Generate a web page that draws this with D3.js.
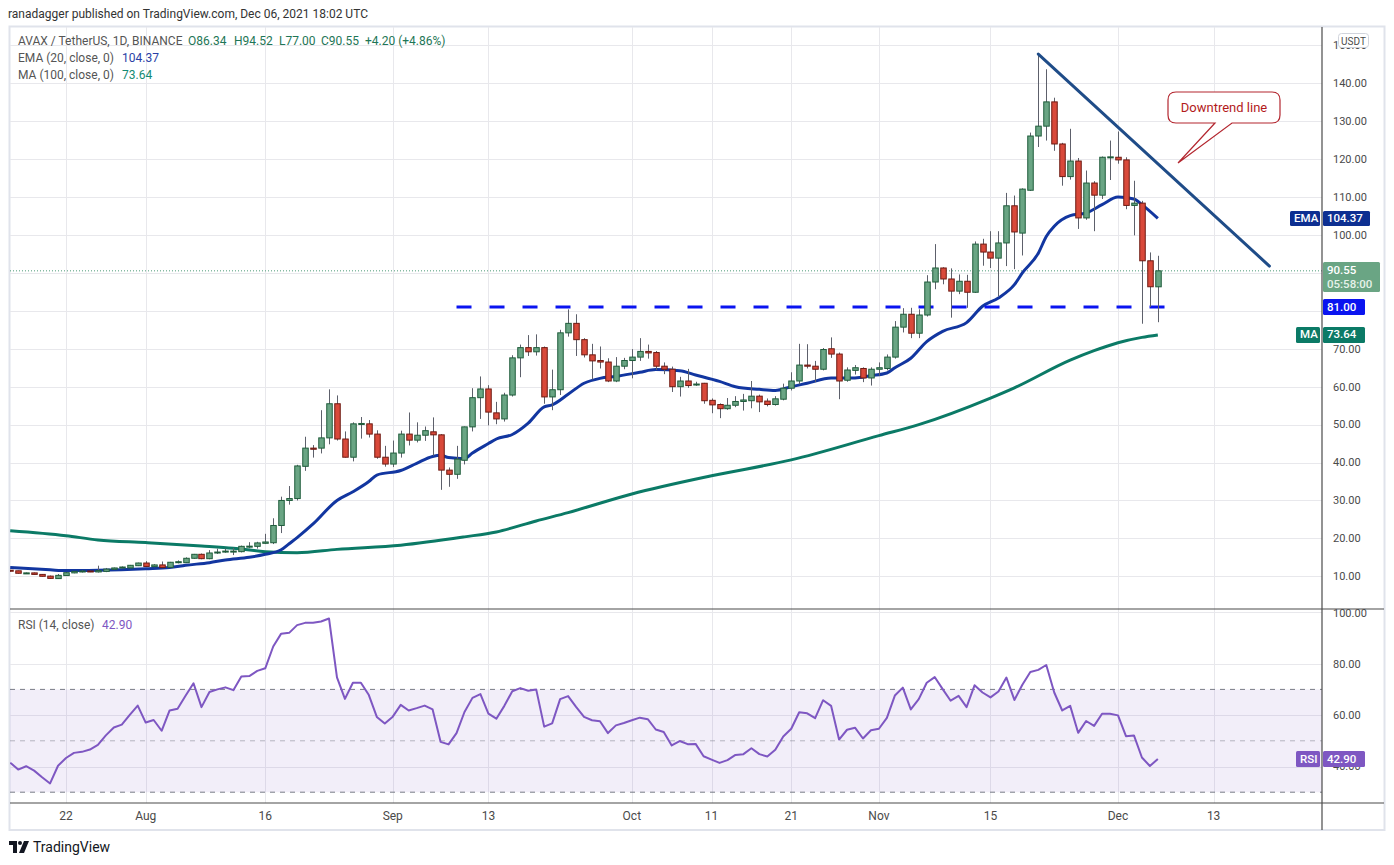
<!DOCTYPE html>
<html>
<head>
<meta charset="utf-8">
<script src="https://cdnjs.cloudflare.com/ajax/libs/d3/7.8.5/d3.min.js"></script>
<style>
  body { margin: 0; background: #fff; }
  svg text { font-family: Roboto, "Noto Sans", "DejaVu Sans", sans-serif; }
</style>
</head>
<body>
<svg id="chart" width="1394" height="865"></svg>
<script>
// daily candles from this date on, one row per day: [open, high, low, close]
const startDay = "2021-07-15";
const candles = [
  [11.6,11.7,11.2,11.45],[11.45,11.5,10.7,10.8],[10.8,11.0,10.7,10.9],[10.9,11.0,10.4,10.5],[10.5,10.6,9.9,10.0],
  [10.05,10.2,9.3,9.45],[9.4,10.6,9.3,10.25],[10.2,11.1,10.1,10.95],[10.9,11.4,10.8,11.3],[11.15,11.6,11.0,11.4],
  [11.4,11.5,11.1,11.3],[11.15,12.8,11.0,11.5],[11.3,12.2,11.1,11.9],[11.85,12.3,11.7,12.2],[12.2,12.6,12.1,12.45],
  [12.2,13.0,12.1,12.9],[12.8,13.6,12.7,13.5],[13.5,14.0,12.5,12.6],[12.55,13.2,12.4,13.0],[13.0,13.9,12.2,12.3],
  [12.35,13.8,12.2,13.7],[13.6,14.2,13.4,13.85],[13.6,15.0,13.5,14.75],[14.75,15.9,14.6,15.8],[15.8,16.0,14.5,14.65],
  [14.65,16.9,14.5,16.15],[16.15,17.3,15.9,16.4],[16.4,17.3,16.2,16.65],[16.5,17.5,15.6,16.65],[16.5,18.1,16.3,17.9],
  [17.75,19.0,17.4,17.95],[17.9,19.1,17.3,18.8],[18.7,21.2,18.5,19.05],[18.85,25.3,18.5,23.4],[23.4,31.0,21.4,30.0],
  [30.0,33.8,28.9,30.5],[30.5,39.4,30.0,39.1],[39.0,46.8,37.8,43.8],[43.8,44.6,41.3,43.5],[43.8,53.8,42.4,46.5],
  [46.5,59.3,44.8,55.5],[55.5,57.7,45.8,46.2],[46.2,48.2,41.3,41.4],[41.4,50.6,40.3,50.2],[50.2,52.0,46.3,50.3],
  [50.2,51.2,46.6,47.5],[47.5,48.5,41.0,41.4],[41.4,44.4,38.9,39.6],[39.6,45.8,38.8,42.5],[42.5,48.4,41.3,47.5],
  [47.5,53.2,44.5,45.9],[45.9,50.6,45.3,47.2],[47.2,49.5,45.7,48.4],[48.1,51.9,41.8,47.3],[47.3,47.5,32.8,38.0],
  [38.0,38.7,33.6,36.9],[36.9,44.4,35.7,40.9],[40.6,49.5,39.5,49.4],[49.4,59.6,48.2,57.1],[57.1,62.7,51.5,59.4],
  [59.4,60.4,49.8,53.3],[53.1,56.0,50.1,51.5],[51.5,58.4,50.8,57.8],[57.8,68.3,57.4,67.6],[67.6,71.1,62.5,70.3],
  [70.3,73.6,68.1,69.2],[69.2,73.8,68.2,70.3],[70.3,70.6,55.5,57.3],[57.3,64.5,53.8,59.2],[59.2,75.0,57.8,74.2],
  [74.2,80.4,73.2,76.7],[76.7,79.1,68.1,72.4],[72.4,72.8,67.7,68.4],[68.4,71.3,61.9,66.8],[66.9,70.6,64.8,66.5],
  [66.5,67.5,61.2,61.5],[61.5,67.8,61.2,65.4],[65.4,67.6,64.6,66.9],[66.9,69.9,62.2,67.8],[67.8,72.8,66.8,69.3],
  [69.3,71.1,67.4,68.9],[69.0,69.4,64.4,65.4],[65.4,66.4,63.3,64.6],[64.6,65.3,58.6,60.0],[60.0,62.6,57.4,61.5],
  [61.5,64.7,59.7,60.3],[60.6,61.3,60.2,60.7],[60.9,61.0,55.5,56.3],[56.4,56.9,53.0,55.2],[55.3,55.6,51.7,54.2],
  [54.2,57.0,53.9,55.1],[55.1,57.5,54.6,56.1],[56.1,58.1,53.7,56.5],[56.3,61.5,54.3,57.5],[57.5,57.9,53.3,56.0],
  [56.2,56.9,54.8,55.3],[55.3,57.5,55.0,56.8],[56.7,60.8,56.4,59.6],[59.6,63.8,59.0,61.5],[61.5,71.3,60.6,65.7],
  [65.7,71.2,64.8,65.4],[65.4,66.8,61.2,64.6],[64.6,70.2,64.3,69.8],[70.0,73.0,67.6,68.6],[68.6,69.0,56.7,61.5],
  [61.7,65.1,61.3,64.4],[64.3,65.7,63.2,65.0],[64.8,65.1,61.2,62.3],[62.3,65.1,60.3,64.6],[64.6,66.4,62.9,65.0],
  [64.8,68.5,64.3,67.8],[67.8,77.3,67.4,75.7],[75.7,80.7,74.3,79.1],[79.1,80.8,72.8,74.1],[74.1,80.4,72.8,78.9],
  [78.9,89.4,78.5,87.6],[87.6,97.6,85.7,91.3],[91.3,91.5,87.0,88.4],[88.4,91.2,78.2,85.2],[85.2,89.6,84.4,87.8],
  [87.8,89.5,80.8,84.9],[84.9,98.3,84.7,97.6],[97.6,99.0,91.9,95.5],[95.5,101.0,91.3,93.9],[93.9,101.0,83.8,97.9],
  [97.9,111.1,91.8,107.7],[107.7,110.4,91.0,100.8],[100.5,112.3,94.6,112.1],[111.8,127.0,111.6,126.1],[126.1,147.7,123.2,128.7],
  [128.7,143.7,124.9,135.1],[135.1,136.2,122.2,124.0],[124.0,124.3,113.0,115.4],[115.4,128.0,114.6,119.5],[119.5,120.3,101.6,104.5],
  [104.5,117.0,104.0,113.7],[113.7,114.2,101.0,110.5],[110.5,120.7,109.5,120.5],[120.4,124.9,114.5,120.6],[120.5,127.3,118.8,119.8],
  [119.8,120.5,106.8,107.8],[107.8,114.3,99.9,108.4],[108.4,109.0,76.6,93.2],[93.2,95.4,81.0,86.35],[86.34,94.52,77.0,90.55]
];

// EMA(20) and MA(100), by day number from startDay
const emaDay = [0,5,7,11,17,20,22,25,27,30,32,34,35,36,38,41,43,45,46,49,51,53,54,55,57,58,60,61,63,65,67,68,70,72,74,76,79,81,84,86,89,91,94,96,98,100,103,106,108,110,111,113,115,117,120,122,124,126,127,129,130,131,133,135,137,139,141,142,144];
const emaValue = [12.3,11.7,11.5,11.6,12.0,12.3,12.9,13.6,14.3,15.0,15.8,17.0,18.6,20.2,23.8,30.0,32.3,35.0,36.7,37.9,39.8,41.6,41.9,41.3,41.0,42.5,45.0,46.2,47.4,50.4,54.7,55.2,58.0,60.9,62.2,62.7,63.8,64.5,64.2,63.1,61.4,60.0,59.3,59.0,60.0,60.9,62.3,62.3,62.9,63.6,65.0,67.5,71.9,74.6,76.9,81.2,83.4,86.9,90.0,95.2,99.6,102.3,105.1,105.8,108.0,110.0,109.5,108.0,104.37];
const maDay = [0,7,11,17,24,28,32,36,41,49,57,61,66,70,78,88,98,109,114,123,126,133,136,139,142,144];
const maValue = [22.0,20.7,19.6,18.9,18.0,17.4,16.5,16.2,17.1,18.2,20.4,21.7,24.6,26.8,31.7,36.5,40.7,47.1,50.0,57.0,59.7,67.0,69.5,71.6,73.0,73.64];

// RSI(14), one value per candle
const rsiValue = [
  41.5,38.8,40.1,38.4,35.8,33.4,40.3,43.3,45.3,45.7,
  46.6,48.4,52.1,55.2,56.3,60.1,63.7,57.1,58.1,53.9,
  61.8,62.5,67.5,72.4,63.1,69.0,70.0,70.8,69.7,75.0,
  75.2,77.2,78.2,86.7,91.7,92.0,95.0,95.9,95.9,96.4,
  97.6,74.7,66.3,72.6,72.6,67.8,59.3,56.7,59.4,64.0,
  61.8,62.7,63.7,62.2,49.6,48.6,53.0,61.2,66.7,68.2,
  60.6,58.6,63.6,69.3,70.5,69.5,70.0,55.5,56.8,66.2,
  67.4,63.2,59.3,58.0,57.6,53.0,56.0,56.9,58.0,59.0,
  58.4,54.4,53.4,48.2,49.9,48.7,48.8,44.0,42.7,41.4,
  42.5,44.5,44.8,47.1,44.8,43.9,46.5,51.7,54.7,61.1,
  60.7,58.8,65.8,63.6,50.5,54.3,55.1,50.9,54.1,54.7,
  58.9,67.6,70.7,62.2,66.2,72.6,74.8,70.1,65.6,67.5,
  63.1,71.6,68.8,66.9,69.2,74.6,65.9,71.8,76.8,77.6,
  79.5,68.8,61.8,63.6,53.1,57.7,55.8,60.5,60.5,59.9,
  51.8,52.1,43.5,40.2,42.9
];

const priceTicks = [10,20,30,40,50,60,70,80,90,100,110,120,130,140,150];
const rsiTicks = [40,60,80,100];
const dateTicks = ["2021-07-22","2021-08-01","2021-08-16","2021-09-01","2021-09-13","2021-10-01","2021-10-11","2021-10-21","2021-11-01","2021-11-15","2021-12-01","2021-12-13"];
const dateTickLabels = ["22","Aug","16","Sep","13","Oct","11","21","Nov","15","Dec","13"];

const supportLevel = 81;
const supportFrom = "2021-09-09", supportTo = "2021-12-07";
const trendStart = ["2021-11-21", 147.7], trendEnd = ["2021-12-20", 91.8];
const lastPrice = 90.55, lastEma = 104.37, lastMa = 73.64, lastRsi = 42.90;

// ---- layout ----
const plotL = 10, plotR = 1322, plotT = 27, mainB = 609, rsiB = 803, frameB = 830;
const parse = d3.utcParse("%Y-%m-%d");
const day0 = parse(startDay);
const dayDate = n => d3.utcDay.offset(day0, n);

const x = d3.scaleUtc().domain([parse("2021-07-22"), parse("2021-12-01")]).range([66, 1118]);
const y = d3.scaleLinear().domain([10, 140]).range([576.3, 83.3]);
const yr = d3.scaleLinear().domain([30, 100]).range([792.2, 612.3]);

const svg = d3.select("#chart");

svg.append("text").attr("x", 8).attr("y", 18).attr("font-size", 12).attr("fill", "#333")
  .text("ranadagger published on TradingView.com, Dec 06, 2021 18:02 UTC");

const defs = svg.append("defs");
defs.append("clipPath").attr("id", "clipMain").append("rect")
  .attr("x", plotL).attr("y", plotT).attr("width", plotR - plotL).attr("height", mainB - plotT);
defs.append("clipPath").attr("id", "clipRsi").append("rect")
  .attr("x", plotL).attr("y", mainB).attr("width", plotR - plotL).attr("height", rsiB - mainB);

// frame
svg.append("rect").attr("x", 9.5).attr("y", 26.5).attr("width", 1375).attr("height", frameB - 26.5)
  .attr("fill", "#fff").attr("stroke", "#e0e3eb").attr("stroke-width", 2);

// grid
const grid = svg.append("g").attr("stroke", "#e8e8ec").attr("stroke-width", 1);
dateTicks.forEach(d => {
  const xx = Math.round(x(parse(d))) + 0.5;
  grid.append("line").attr("x1", xx).attr("x2", xx).attr("y1", plotT).attr("y2", rsiB);
});
priceTicks.filter(p => y(p) > plotT && y(p) < mainB).forEach(p => {
  const yy = Math.round(y(p)) + 0.5;
  grid.append("line").attr("x1", plotL).attr("x2", plotR).attr("y1", yy).attr("y2", yy);
});
rsiTicks.forEach(r => {
  const yy = Math.round(yr(r)) + 0.5;
  grid.append("line").attr("x1", plotL).attr("x2", plotR).attr("y1", yy).attr("y2", yy);
});

// RSI band
const rsiG = svg.append("g").attr("clip-path", "url(#clipRsi)");
rsiG.append("rect").attr("x", plotL).attr("width", plotR - plotL)
  .attr("y", yr(70)).attr("height", yr(30) - yr(70)).attr("fill", "#7e57c2").attr("fill-opacity", 0.1);
[[70, 1], [50, 0.5], [30, 1]].forEach(([r, o]) => {
  rsiG.append("line").attr("x1", plotL).attr("x2", plotR).attr("y1", yr(r)).attr("y2", yr(r))
    .attr("stroke", "#787b86").attr("stroke-opacity", o).attr("stroke-dasharray", "5,5");
});
rsiG.append("path").datum(rsiValue)
  .attr("fill", "none").attr("stroke", "#7e57c2").attr("stroke-width", 2).attr("stroke-linejoin", "round")
  .attr("d", d3.line().x((d, i) => x(dayDate(i))).y(d => yr(d)));

// main panel
const main = svg.append("g").attr("clip-path", "url(#clipMain)");

main.append("line").attr("x1", plotL).attr("x2", plotR).attr("y1", y(lastPrice)).attr("y2", y(lastPrice))
  .attr("stroke", "#4d9a78").attr("stroke-width", 1).attr("stroke-dasharray", "1,2");

main.append("path").datum(maDay.map((d, i) => [d, maValue[i]]))
  .attr("fill", "none").attr("stroke", "#0b7a66").attr("stroke-width", 3)
  .attr("d", d3.line().curve(d3.curveMonotoneX).x(d => x(dayDate(d[0]))).y(d => y(d[1])));

main.append("path").datum(emaDay.map((d, i) => [d, emaValue[i]]))
  .attr("fill", "none").attr("stroke", "#1236a0").attr("stroke-width", 3)
  .attr("d", d3.line().curve(d3.curveMonotoneX).x(d => x(dayDate(d[0]))).y(d => y(d[1])));

main.append("line")
  .attr("x1", x(parse(supportFrom))).attr("x2", x(parse(supportTo)))
  .attr("y1", y(supportLevel)).attr("y2", y(supportLevel))
  .attr("stroke", "#0a14f0").attr("stroke-width", 3).attr("stroke-dasharray", "15,18");

const bw = 5.5;
const cg = main.append("g").selectAll("g").data(candles).join("g");
cg.append("line")
  .attr("x1", (d, i) => Math.round(x(dayDate(i))) + 0.5).attr("x2", (d, i) => Math.round(x(dayDate(i))) + 0.5)
  .attr("y1", d => y(d[1])).attr("y2", d => y(d[2]))
  .attr("stroke", "#5d606b").attr("stroke-width", 1);
cg.append("rect")
  .attr("x", (d, i) => Math.round(x(dayDate(i))) + 0.5 - bw / 2)
  .attr("width", bw)
  .attr("y", d => y(Math.max(d[0], d[3])))
  .attr("height", d => Math.max(1, Math.abs(y(d[0]) - y(d[3]))))
  .attr("fill", d => d[3] >= d[0] ? "#6aa584" : "#d9493a")
  .attr("stroke", d => d[3] >= d[0] ? "#1f5c3b" : "#6e1a12")
  .attr("stroke-width", 1);

main.append("line")
  .attr("x1", x(parse(trendStart[0]))).attr("y1", y(trendStart[1]))
  .attr("x2", x(parse(trendEnd[0]))).attr("y2", y(trendEnd[1]))
  .attr("stroke", "#1f4c88").attr("stroke-width", 3).attr("stroke-linecap", "round");

// callout
svg.append("path")
  .attr("d", "M1176,92 H1272 Q1280,92 1280,100 V115 Q1280,123 1272,123 H1232 L1178,163 L1215,123 H1176 Q1168,123 1168,115 V100 Q1168,92 1176,92 Z")
  .attr("fill", "#fff").attr("stroke", "#b3262f").attr("stroke-width", 1.2);
svg.append("text").attr("x", 1224).attr("y", 112).attr("text-anchor", "middle")
  .attr("font-size", 13).attr("fill", "#b31b1b").text("Downtrend line");

// panel separators and axis line
svg.append("g").attr("stroke", "#4a4a4a").attr("stroke-width", 1.2).selectAll("line")
  .data([[plotL, mainB, 1384, mainB], [plotL, rsiB, 1384, rsiB], [plotR, plotT, plotR, frameB]])
  .join("line")
  .attr("x1", d => d[0]).attr("y1", d => d[1]).attr("x2", d => d[2]).attr("y2", d => d[3]);

// price axis labels (the ones sitting under a value tag are hidden, as on the chart)
const tagPrices = [lastPrice, supportLevel];
const axisText = svg.append("g").attr("font-size", 11).attr("fill", "#4a4a4a");
priceTicks.filter(p => !tagPrices.some(t => Math.abs(y(t) - y(p)) < 12)).forEach(p => {
  axisText.append("text").attr("x", 1333).attr("y", y(p)).attr("dy", "0.35em").text(p.toFixed(2));
});
rsiTicks.forEach(r => {
  axisText.append("text").attr("x", 1333).attr("y", yr(r) + (r === 100 ? 1 : 0)).attr("dy", "0.35em").text(r.toFixed(2));
});
dateTicks.forEach((d, i) => {
  axisText.append("text").attr("x", x(parse(d))).attr("y", 820).attr("text-anchor", "middle")
    .attr("font-size", 12).text(dateTickLabels[i]);
});

// USDT box
svg.append("rect").attr("x", 1338.5).attr("y", 33.5).attr("width", 30).attr("height", 14).attr("rx", 3)
  .attr("fill", "#fff").attr("stroke", "#d1d4dc");
svg.append("text").attr("x", 1353.5).attr("y", 44.5).attr("text-anchor", "middle")
  .attr("font-size", 10).attr("fill", "#4a4a4a").text("USDT");

// value tags
function tag(yc, h, x0, w, fill, lines) {
  svg.append("rect").attr("x", x0).attr("y", yc - h / 2).attr("width", w).attr("height", h)
    .attr("rx", 1.5).attr("fill", fill);
  lines.forEach((t, k) => {
    svg.append("text").attr("x", x0 + 4).attr("y", yc - h / 2 + 11.5 + k * 14)
      .attr("font-size", 11.5).attr("font-weight", 500).attr("fill", t[1] || "#fff").text(t[0]);
  });
}
tag(y(lastEma), 15, 1290, 30, "#0d2f91", [["EMA"]]);
tag(y(lastEma), 15, 1323, 47, "#0d2f91", [[lastEma.toFixed(2)]]);
tag(y(lastPrice) + 6.2, 30, 1323, 57, "#6aa584", [[lastPrice.toFixed(2)], ["05:58:00", "#e6f2ea"]]);
tag(y(supportLevel), 16, 1323, 42, "#0a14f0", [[supportLevel.toFixed(2)]]);
tag(y(lastMa), 16, 1296, 24, "#0b7a66", [["MA"]]);
tag(y(lastMa), 16, 1323, 42, "#0b7a66", [[lastMa.toFixed(2)]]);
tag(yr(lastRsi), 16, 1296, 24, "#7e57c2", [["RSI"]]);
tag(yr(lastRsi), 16, 1323, 42, "#7e57c2", [[lastRsi.toFixed(2)]]);

// legends
const last = candles[candles.length - 1];
const prevClose = candles[candles.length - 2][3];
const chg = last[3] - prevClose;
const lg = svg.append("g").attr("font-size", 12);
const l1 = lg.append("text").attr("x", 18).attr("y", 45);
l1.append("tspan").attr("fill", "#555").text("AVAX / TetherUS, 1D, BINANCE");
[["O", last[0], 188], ["H", last[1], 234], ["L", last[2], 279], ["C", last[3], 321]].forEach(([k, v, xx]) => {
  l1.append("tspan").attr("x", xx).attr("fill", "#1e7656").text(k + v.toFixed(2));
});
l1.append("tspan").attr("x", 365).attr("fill", "#1e7656")
  .text("+" + chg.toFixed(2) + " (+" + (chg / prevClose * 100).toFixed(2) + "%)");
const l2 = lg.append("text").attr("x", 18).attr("y", 62);
l2.append("tspan").attr("fill", "#555").text("EMA (20, close, 0)");
l2.append("tspan").attr("x", 122).attr("fill", "#2a3fa6").text(lastEma.toFixed(2));
const l3 = lg.append("text").attr("x", 18).attr("y", 79);
l3.append("tspan").attr("fill", "#555").text("MA (100, close, 0)");
l3.append("tspan").attr("x", 122).attr("fill", "#138a72").text(lastMa.toFixed(2));
const l4 = lg.append("text").attr("x", 18).attr("y", 629);
l4.append("tspan").attr("fill", "#555").text("RSI (14, close)");
l4.append("tspan").attr("x", 102).attr("fill", "#7e57c2").text(lastRsi.toFixed(2));

// TradingView logo
const logo = svg.append("g").attr("fill", "#131722");
logo.append("path").attr("d", "M9,841 H17 V853 H13 V845 H9 Z");
logo.append("circle").attr("cx", 20).attr("cy", 843).attr("r", 2);
logo.append("path").attr("d", "M24,841 H29 L24,853 H19 Z");
logo.append("text").attr("x", 33).attr("y", 852).attr("font-size", 14).attr("fill", "#131722").text("TradingView");
</script>
</body>
</html>
